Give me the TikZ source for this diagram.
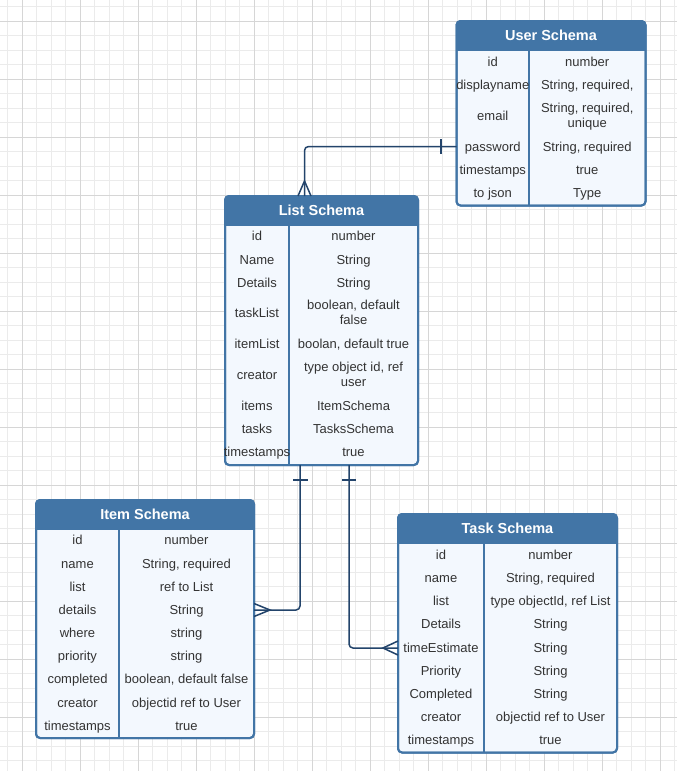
\documentclass[tikz,border=0pt]{standalone}
\usepackage{fontspec}
\setmainfont{Liberation Sans}
\usetikzlibrary{calc}

\definecolor{hdrblue}{HTML}{4275A6}
\definecolor{bodyblue}{HTML}{F3F8FE}
\definecolor{linknavy}{HTML}{23446B}
\definecolor{gridminor}{HTML}{EBEBEB}
\definecolor{gridmajor}{HTML}{D6D6D6}
\definecolor{txt}{HTML}{333333}

\tikzset{
  tbl/.style={draw=hdrblue, line width=2pt, fill=bodyblue, rounded corners=4pt,
    inner sep=0pt, outer sep=0pt, anchor=north west},
  cell/.style={font=\fontsize{13}{15}\selectfont, text=txt, align=center,
    inner sep=0pt, execute at begin node=\strut, execute at end node=\strut},
  ttl/.style={font=\bfseries\fontsize{14.5}{16}\selectfont, text=white, inner sep=0pt},
  link/.style={draw=linknavy, line width=1.5pt},
}

% \ertable{name}{x1}{y1}{x2}{y2}{header bottom}{column divider}{title}{rows y/key/value}
\newcommand\ertable[9]{%
  \node[tbl, minimum width={#4-#2}, minimum height={#5-#3}] (#1) at (#2,#3) {};
  \begin{scope}
    \clip[rounded corners=4pt] (#2,#3) rectangle (#4,#5);
    \fill[hdrblue] (#2,#3) rectangle (#4,#6);
  \end{scope}
  \draw[hdrblue, line width=2pt, rounded corners=4pt] (#1.north west) rectangle (#1.south east);
  \draw[hdrblue, line width=2pt] (#7,#6) -- (#7,#5);
  \node[ttl] (#1-title) at ({(#2+#4)/2},{(#3+#6)/2-0.5}) {#8};
  \foreach \ry/\rk/\rv [count=\ri] in {#9} {
    \node[cell] (#1-k\ri) at ({(#2+#7)/2},\ry+2.5) {\rk};
    \node[cell] (#1-v\ri) at ({(#7+#4)/2},\ry+2.5) {\rv};
  }%
}

\begin{document}
\begin{tikzpicture}[x=1pt, y=-1pt]
  \useasboundingbox (0,0) rectangle (677,771);
  \fill[white] (0,0) rectangle (677,771);

  % background grid
  \foreach \gx in {7.5,22,...,677} \draw[gridminor, line width=1pt] (\gx,0) -- (\gx,771);
  \foreach \gy in {6.5,21,...,771} \draw[gridminor, line width=1pt] (0,\gy) -- (677,\gy);
  \foreach \gx in {22,80,...,677} \draw[gridmajor, line width=1pt] (\gx,0) -- (\gx,771);
  \foreach \gy in {21,79,...,771} \draw[gridmajor, line width=1pt] (0,\gy) -- (677,\gy);

  % tables
  \ertable{user}{456.5}{21}{645.5}{205.5}{51}{529}{User Schema}{%
    61/id/number, 84/displayname/{String, required,}, 115/email/{String, required,\\unique},
    146/password/{String, required}, 169/timestamps/true, 192/to json/Type}

  \ertable{list}{225}{196}{418}{465}{226}{289}{List Schema}{%
    235/id/number, 259/Name/String, 282/Details/String, 312/taskList/{boolean, default\\false},
    343/itemList/{boolan, default true}, 374/creator/{type object id, ref\\user},
    405/items/ItemSchema, 428/tasks/TasksSchema, 451/timestamps/true}

  \ertable{item}{36}{500}{254}{738}{530}{119}{Item Schema}{%
    539/id/number, 563/name/{String, required}, 586/list/ref to List, 609/details/String,
    632/where/string, 655/priority/string, 678/completed/{boolean, default false},
    702/creator/objectid ref to User, 725/timestamps/true}

  \ertable{task}{398}{514}{617}{752.5}{544}{484}{Task Schema}{%
    554/id/number, 577/name/{String, required}, 600/list/{type objectId, ref List},
    623/Details/String, 647/timeEstimate/String, 670/Priority/String, 693/Completed/String,
    716/creator/objectid ref to User, 739/timestamps/true}

  % user -> list (one to many)
  \draw[link, rounded corners=4pt] ($(user.north west)+(0,125.5)$) -| ($(list.north west)+(79.5,0)$);
  \draw[link] ($(user.north west)+(-15.5,118)$) -- ++(0,15);
  \draw[link] ($(list.north west)+(73,0)$) -- ($(list.north west)+(79.5,-15)$) -- ($(list.north west)+(86,0)$);

  % list -> item (one to many)
  \draw[link, rounded corners=4pt] ($(list.south west)+(75,0)$) |- ($(item.north east)+(0,110)$);
  \draw[link] ($(list.south west)+(68,15)$) -- ++(15,0);
  \draw[link] ($(item.north east)+(0,103.5)$) -- ($(item.north east)+(16,110)$) -- ($(item.north east)+(0,116.5)$);

  % list -> task (one to many)
  \draw[link, rounded corners=4pt] ($(list.south west)+(124,0)$) |- ($(task.north west)+(0,134)$);
  \draw[link] ($(list.south west)+(117,15)$) -- ++(14,0);
  \draw[link] ($(task.north west)+(0,127)$) -- ($(task.north west)+(-15,134)$) -- ($(task.north west)+(0,141)$);
\end{tikzpicture}
\end{document}
